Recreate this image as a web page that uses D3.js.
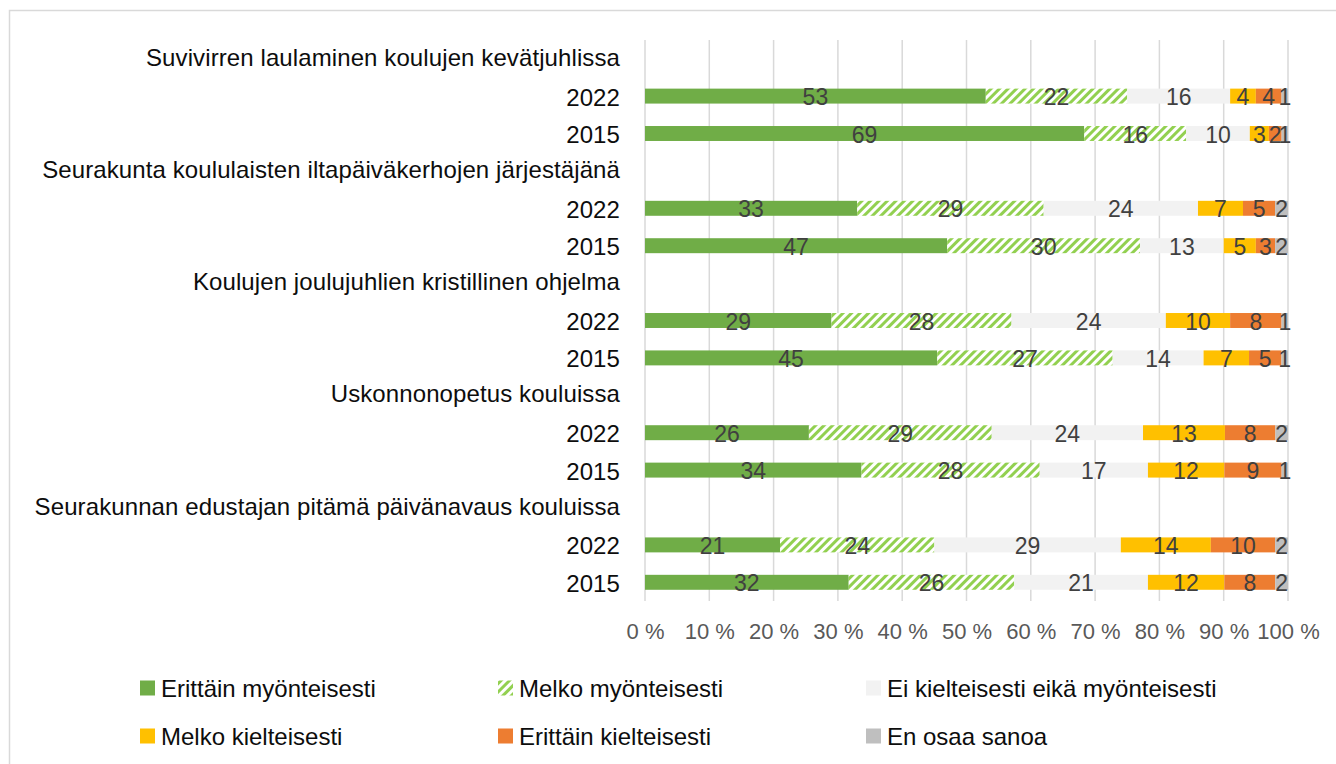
<!DOCTYPE html>
<html><head><meta charset="utf-8">
<script src="https://cdn.jsdelivr.net/npm/d3@7"></script>
<style>body{margin:0;background:#fff}svg{display:block}</style>
</head><body><svg id="c" width="1336" height="764"></svg>
<script>
// ---- data ----
const categories = [
  "Suvivirren laulaminen koulujen kevätjuhlissa",
  "Seurakunta koululaisten iltapäiväkerhojen järjestäjänä",
  "Koulujen joulujuhlien kristillinen ohjelma",
  "Uskonnonopetus kouluissa",
  "Seurakunnan edustajan pitämä päivänavaus kouluissa"
];
const years = ["2022", "2015"];
const seriesNames = [
  "Erittäin myönteisesti",
  "Melko myönteisesti",
  "Ei kielteisesti eikä myönteisesti",
  "Melko kielteisesti",
  "Erittäin kielteisesti",
  "En osaa sanoa"
];
// values in order: cat1-2022, cat1-2015, cat2-2022, cat2-2015, ...
const erittainMyonteisesti = [53, 69, 33, 47, 29, 45, 26, 34, 21, 32];
const melkoMyonteisesti    = [22, 16, 29, 30, 28, 27, 29, 28, 24, 26];
const eiKumpikaan          = [16, 10, 24, 13, 24, 14, 24, 17, 29, 21];
const melkoKielteisesti    = [ 4,  3,  7,  5, 10,  7, 13, 12, 14, 12];
const erittainKielteisesti = [ 4,  2,  5,  3,  8,  5,  8,  9, 10,  8];
const enOsaaSanoa          = [ 1,  1,  2,  2,  1,  1,  2,  1,  2,  2];
const tickValues = [0, 0.1, 0.2, 0.3, 0.4, 0.5, 0.6, 0.7, 0.8, 0.9, 1];

const seriesValues = [erittainMyonteisesti, melkoMyonteisesti, eiKumpikaan,
  melkoKielteisesti, erittainKielteisesti, enOsaaSanoa];
const colors = ["#70AD47", "url(#hatch)", "#F2F2F2", "#FFC000", "#ED7D31", "#BFBFBF"];
const legendColors = ["#70AD47", "url(#hatchL)", "#F2F2F2", "#FFC000", "#ED7D31", "#BFBFBF"];

const FONT = "'Liberation Sans Narrow','Arial Narrow','Liberation Sans',sans-serif";

// rows
const rows = [];
const barRows = [];
categories.forEach((c, ci) => {
  rows.push({id: "c" + ci, type: "cat", label: c});
  years.forEach((y, yi) => {
    const idx = ci * 2 + yi;
    const r = {id: "c" + ci + "y" + yi, type: "bar", label: y};
    seriesNames.forEach((s, si) => r[s] = seriesValues[si][idx]);
    rows.push(r);
    barRows.push(r);
  });
});

const svg = d3.select("#c");
const defs = svg.append("defs");
function hatch(id) {
  const p = defs.append("pattern").attr("id", id).attr("patternUnits", "userSpaceOnUse")
    .attr("width", 6).attr("height", 6).attr("patternTransform", "rotate(45)");
  p.append("rect").attr("width", 6).attr("height", 6).attr("fill", "#fff");
  p.append("rect").attr("width", 3).attr("height", 6).attr("fill", "#92D050");
}
hatch("hatch"); hatch("hatchL");

// border
svg.append("rect").attr("x", 9.5).attr("y", 10.5).attr("width", 1340).attr("height", 770)
  .attr("fill", "none").attr("stroke", "#D9D9D9").attr("stroke-width", 1.5);

const x = d3.scaleLinear().domain([0, 1]).range([645, 1288]);
const y = d3.scaleBand().domain(rows.map(r => r.id)).range([40, 601]).paddingInner(0.6).paddingOuter(0.3);

// gridlines
svg.append("g").selectAll("line").data(tickValues).join("line")
  .attr("x1", d => x(d)).attr("x2", d => x(d)).attr("y1", 40).attr("y2", 601)
  .attr("stroke", "#D9D9D9").attr("stroke-width", 1.5);

// stack
const stack = d3.stack().keys(seriesNames).offset(d3.stackOffsetExpand);
const stacked = stack(barRows);

const gBars = svg.append("g");
stacked.forEach((layer, si) => {
  gBars.append("g").attr("fill", colors[si]).selectAll("rect").data(layer).join("rect")
    .attr("x", d => x(d[0])).attr("width", d => x(d[1]) - x(d[0]))
    .attr("y", d => y(d.data.id)).attr("height", y.bandwidth());
});
const gLab = svg.append("g").attr("font-family", FONT).attr("font-size", 23).attr("fill", "#404040")
  .attr("text-anchor", "middle").attr("dominant-baseline", "central");
stacked.forEach((layer, si) => {
  gLab.append("g").selectAll("text").data(layer).join("text")
    .attr("x", d => (x(d[0]) + x(d[1])) / 2)
    .attr("y", d => y(d.data.id) + y.bandwidth() / 2 + 1)
    .text(d => d.data[seriesNames[si]]);
});

// row labels
const gRow = svg.append("g").attr("font-family", FONT).attr("font-size", 24).attr("letter-spacing", 0.1)
  .attr("fill", "#0D0D0D").attr("dominant-baseline", "central").attr("text-anchor", "end");
rows.forEach(r => {
  const t = gRow.append("text").attr("x", 620).attr("y", y(r.id) + y.bandwidth() / 2 + (r.type === "cat" ? -1.5 : 1)).text(r.label);
  const w = t.node().getComputedTextLength();
  if (620 - w < 22) t.attr("x", 22 + w);
});

// x axis
const ax = svg.append("g").attr("transform", "translate(0,626)")
  .call(d3.axisBottom(x).tickValues(tickValues).tickSize(0).tickPadding(0)
    .tickFormat(d => Math.round(d * 100) + " %"));
ax.select(".domain").remove();
ax.selectAll("text").attr("font-family", FONT).attr("font-size", 22).attr("fill", "#595959")
  .attr("dy", "0.6em");

// legend
const legX = [140, 498, 866];
const legY = [688, 736];
const gLeg = svg.append("g").attr("font-family", FONT).attr("font-size", 24).attr("fill", "#0D0D0D");
seriesNames.forEach((s, i) => {
  const lx = legX[i % 3], ly = legY[Math.floor(i / 3)];
  gLeg.append("rect").attr("x", lx).attr("y", ly - 7.5).attr("width", 15).attr("height", 15).attr("fill", legendColors[i]);
  gLeg.append("text").attr("x", lx + 21).attr("y", ly).attr("dominant-baseline", "central").text(s);
});
</script>
</body></html>
